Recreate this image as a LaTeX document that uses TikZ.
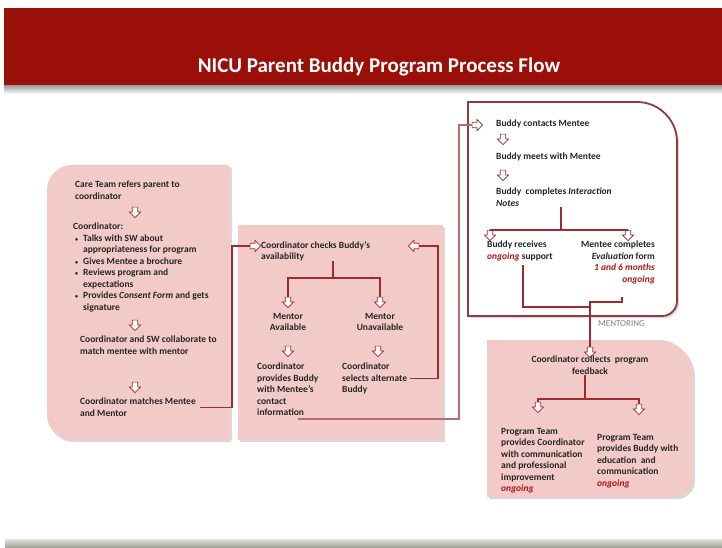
\documentclass[tikz,border=0pt]{standalone}
\usepackage{fontspec}
\setmainfont{Carlito}
\usetikzlibrary{arrows.meta, positioning, shapes.arrows, shadows}

\definecolor{hdrred}{HTML}{9A1008}
\definecolor{boxpink}{HTML}{F2CAC8}
\definecolor{lnred}{HTML}{9E2B30}
\definecolor{rimred}{HTML}{8F3C40}
\definecolor{txtgray}{HTML}{262626}
\definecolor{ongred}{HTML}{B01515}
\definecolor{bargray}{HTML}{9C9C90}

\newcommand{\ong}[1]{\textcolor{ongred}{\textit{#1}}}
\newcommand{\bul}{\makebox[10pt][l]{\hspace{2pt}{\fontsize{6}{6}\selectfont\textbullet}}}
\newcommand{\ind}{\hspace*{10pt}}

\begin{document}
\begin{tikzpicture}[x=1pt, y=-1pt,
  txt/.style={font=\fontsize{9.5}{11.5}\selectfont\bfseries, text=txtgray,
    inner sep=0pt, align=left},
  ctxt/.style={txt, align=center},
  rtxt/.style={txt, align=right},
  dn/.style={single arrow, draw=lnred, fill=white, line width=0.7pt,
    minimum height=10.5pt, inner sep=2.4pt, single arrow head extend=2.8pt,
    shape border rotate=270},
  rt/.style={dn, shape border rotate=0},
  lt/.style={dn, shape border rotate=180},
  conn/.style={draw=lnred, line width=1.4pt},
  pinkbox/.style={fill=boxpink,
    drop shadow={opacity=0.3, shadow xshift=2pt, shadow yshift=-2pt}},
]
  \useasboundingbox (0,0) rectangle (722,548);

  % Header band
  \shade[top color=black!45, bottom color=white] (4,84) rectangle (722,94);
  \fill[hdrred] (4,8) rectangle (722,85);
  \node[font=\fontsize{21}{23}\selectfont\bfseries, text=white] (title)
       at (379,67) {NICU Parent Buddy Program Process Flow};

  % Bottom bar
  \shade[top color=bargray!30, bottom color=bargray] (5,539) rectangle (722,548);

  % === Boxes ===
  \path[pinkbox] (140,165) [rounded corners=3pt] -- (230,165) -- (230,440)
       [rounded corners=25pt] -- (47,440) -- (47,165) -- cycle;
  \path[pinkbox] (238,225) rectangle (443,440);
  \path[draw=rimred, line width=1.8pt, fill=white,
        drop shadow={opacity=0.3, shadow xshift=2pt, shadow yshift=-2pt}]
       (468,316) -- (468,102) [rounded corners=40pt] -- (677,102)
       [rounded corners=15pt] -- (677,316) [sharp corners] -- cycle;
  \path[pinkbox] (487,497) -- (487,340) [rounded corners=35pt] -- (693,340)
       [rounded corners=18pt] -- (693,497) [sharp corners] -- cycle;

  % === Referral column ===
  \node[txt, anchor=north west] (care) at (75,181)
       {Care Team refers parent to\\coordinator};
  \node[dn] (a1) at (135,211) {};
  \node[txt, anchor=north west] (coord) at (73,223)
       {Coordinator:\\
        \bul Talks with SW about\\
        \ind appropriateness for program\\
        \bul Gives Mentee a brochure\\
        \bul Reviews program and\\
        \ind expectations\\
        \bul Provides \textit{Consent Form} and gets\\
        \ind signature};
  \node[dn] (a2) at (135,324) {};
  \node[txt, anchor=north west] (collab) at (80,336)
       {Coordinator and SW collaborate to\\match mentee with mentor};
  \node[dn] (a3) at (135,386) {};
  \node[txt, anchor=north west] (match) at (80,398)
       {Coordinator matches Mentee\\and Mentor};

  % === Availability ===
  \node[rt] (arrR1) at (254,246) {};
  \node[txt, anchor=north west] (check) at (261,241)
       {Coordinator checks Buddy’s\\availability};
  \node[dn] (d1) at (288,301) {};
  \node[dn] (d2) at (380,301) {};
  \node[ctxt, anchor=north] (avail) at (288,313) {Mentor\\Available};
  \node[ctxt, anchor=north] (unavail) at (380,313) {Mentor\\Unavailable};
  \node[dn] (d3) at (288,350) {};
  \node[dn] (d4) at (378,350) {};
  \node[txt, anchor=north west] (provides) at (257,363)
       {Coordinator\\provides Buddy\\with Mentee’s\\contact\\information};
  \node[txt, anchor=north west] (selects) at (342,363)
       {Coordinator\\selects alternate\\Buddy};
  \node[lt] (arrL) at (415,246) {};

  % === Mentoring ===
  \node[rt] (arrR2) at (476,125) {};
  \node[txt, anchor=north west] (contacts) at (496,120) {Buddy contacts Mentee};
  \node[dn] (d5) at (503,138) {};
  \node[txt, anchor=north west] (meets) at (496,153) {Buddy meets with Mentee};
  \node[dn] (d6) at (503,174) {};
  \node[txt, anchor=north west] (completes) at (496,188)
       {Buddy~ completes \textit{Interaction}\\\textit{Notes}};
  \node[dn] (d7) at (490,234) {};
  \node[dn] (d8) at (628,234) {};
  \node[txt, anchor=north west] (receives) at (487,241)
       {Buddy receives\\\ong{ongoing} support};
  \node[rtxt, anchor=north east] (evaluation) at (655,241)
       {Mentee completes\\\textit{Evaluation} form\\\ong{1 and 6 months}\\\ong{ongoing}};
  \node[font=\fontsize{9}{10}\selectfont, text=gray, inner sep=0pt,
        anchor=north west] (mentoring) at (598,320) {MENTORING};

  % === Feedback ===
  \node[dn] (d9) at (590,351) {};
  \node[ctxt, anchor=north] (collects) at (590,356)
       {Coordinator collects~ program\\feedback};
  \node[dn] (d10) at (538,406) {};
  \node[dn] (d11) at (639,408) {};
  \node[txt, anchor=north west] (progL) at (501,428)
       {Program Team\\provides Coordinator\\with communication\\and professional\\improvement\\\ong{ongoing}};
  \node[txt, anchor=north west] (progR) at (597,434)
       {Program Team\\provides Buddy with\\education~ and\\communication\\\ong{ongoing}};

  % === Connectors ===
  \coordinate (j1) at (232,246);
  \draw[conn] ([xshift=4pt]match.east) -| (j1) -- (arrR1.west);

  \coordinate (t1) at (333,278);
  \draw[conn] (t1 |- check.south) -- (t1);
  \draw[conn] (d1.north) |- (t1) -| (d2.north);

  \coordinate (j2) at (438,246);
  \draw[conn] ([xshift=3pt]selects.east) -| (j2) -- (arrL.east);

  \coordinate (j3) at (298,419);
  \coordinate (j4) at (459,125);
  \draw[draw=lnred!70, line width=1.4pt] (j3) -| (j4) -- (arrR2.west);

  \coordinate (t2) at (561,230);
  \draw[conn] (t2 |- completes.south) -- (t2);
  \draw[conn] (d7.north) |- (t2) -| (d8.north);

  \coordinate (j5) at (523,265);
  \coordinate (j6) at (622,297);
  \coordinate (m1) at (590,307);
  \coordinate (m2) at (590,302);
  \draw[conn] (j5) |- (m1);
  \draw[conn] (j6) |- (m2) -- (d9.north);

  \coordinate (t3) at (585,399);
  \draw[conn] (t3 |- collects.south) -- (t3);
  \draw[conn] (d10.north) |- (t3) -| (d11.north);
\end{tikzpicture}
\end{document}
